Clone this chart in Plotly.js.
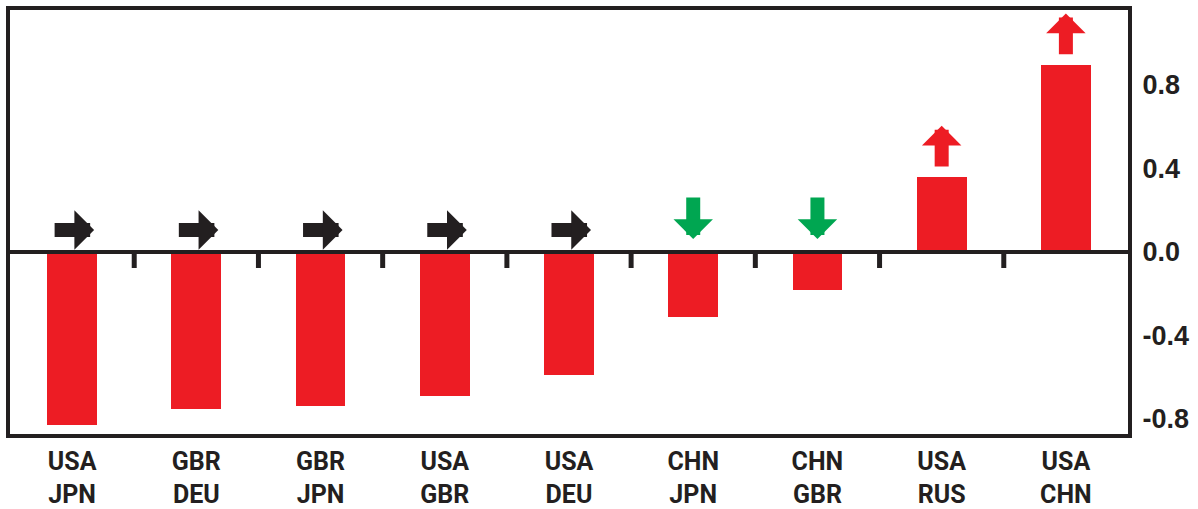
<!DOCTYPE html>
<html>
<head>
<meta charset="utf-8">
<script src="https://cdn.plot.ly/plotly-3.0.1.min.js"></script>
<style>
  html, body { margin: 0; padding: 0; background: #ffffff; }
  #chart { width: 1198px; height: 509px; }
</style>
</head>
<body>
<div id="chart"></div>
<script>
// ---- Data ----
const categories = ['USA<br>JPN', 'GBR<br>DEU', 'GBR<br>JPN', 'USA<br>GBR', 'USA<br>DEU', 'CHN<br>JPN', 'CHN<br>GBR', 'USA<br>RUS', 'USA<br>CHN'];
const values = [-0.83, -0.754, -0.736, -0.69, -0.59, -0.31, -0.18, 0.358, 0.896];
const trend = ['right', 'right', 'right', 'right', 'right', 'down', 'down', 'up', 'up'];
const yTickVals = [-0.8, -0.4, 0.0, 0.4, 0.8];
const yTickText = ['-0.8', '-0.4', '0.0', '0.4', '0.8'];

// ---- Styles ----
const RED = '#ed1c24';
const GREEN = '#00a651';
const INK = '#231f20';
const CAT_FONT = 'Roboto, Arial, sans-serif';
const NUM_FONT = 'Liberation Sans, Arial, sans-serif';

const xIdx = categories.map((_, i) => i);

const trace = {
  type: 'bar',
  x: xIdx,
  y: values,
  width: 0.4,
  marker: { color: RED, line: { width: 0 } },
  hoverinfo: 'skip'
};

// trend arrows as annotations
const annotations = [];
trend.forEach((t, i) => {
  const base = { xref: 'x', yref: 'y', axref: 'x', ayref: 'y', text: '', showarrow: true,
                 arrowhead: 1, arrowsize: 0.47, arrowwidth: 14 };
  if (t === 'right') {
    annotations.push(Object.assign({}, base, { x: i + 0.177, y: 0.105, ax: i - 0.153, ay: 0.105, arrowcolor: INK }));
  } else if (t === 'down') {
    annotations.push(Object.assign({}, base, { x: i, y: 0.062, ax: i, ay: 0.268, arrowcolor: GREEN }));
  } else {
    annotations.push(Object.assign({}, base, { x: i, y: values[i] + 0.246, ax: i, ay: values[i] + 0.044, arrowcolor: RED }));
  }
});

// zero line above bars and small separator ticks hanging from it
const shapes = [{
  type: 'line', layer: 'above', xref: 'paper', x0: 0, x1: 1, yref: 'y', y0: 0, y1: 0,
  line: { color: INK, width: 4 }
}];
for (let i = 0; i < categories.length - 1; i++) {
  shapes.push({
    type: 'line', layer: 'above', xref: 'x', x0: i + 0.5, x1: i + 0.5, yref: 'y', y0: 0, y1: -0.077,
    line: { color: INK, width: 5 }
  });
}

const layout = {
  width: 1198,
  height: 509,
  margin: { l: 10, r: 70, t: 10, b: 75 },
  paper_bgcolor: '#ffffff',
  plot_bgcolor: '#ffffff',
  showlegend: false,
  bargap: 0,
  font: { family: NUM_FONT, color: INK, size: 24, weight: 'bold' },
  xaxis: {
    range: [-0.5, categories.length - 0.5],
    tickmode: 'array',
    tickvals: xIdx,
    ticktext: categories,
    ticks: '',
    ticklabelstandoff: 2,
    showgrid: false,
    zeroline: false,
    showline: true,
    mirror: true,
    linecolor: INK,
    linewidth: 4,
    tickfont: { family: CAT_FONT, size: 25, color: INK, weight: 'bold' },
    fixedrange: true
  },
  yaxis: {
    side: 'right',
    range: [-0.872, 1.159],
    tickmode: 'array',
    tickvals: yTickVals,
    ticktext: yTickText,
    ticks: '',
    ticklabelstandoff: 5,
    showgrid: false,
    zeroline: false,
    showline: true,
    mirror: true,
    linecolor: INK,
    linewidth: 4,
    tickfont: { family: NUM_FONT, size: 27, color: INK, weight: 'bold' },
    fixedrange: true
  },
  shapes: shapes,
  annotations: annotations
};

Plotly.newPlot('chart', [trace], layout, { displayModeBar: false, staticPlot: true });
</script>
</body>
</html>
